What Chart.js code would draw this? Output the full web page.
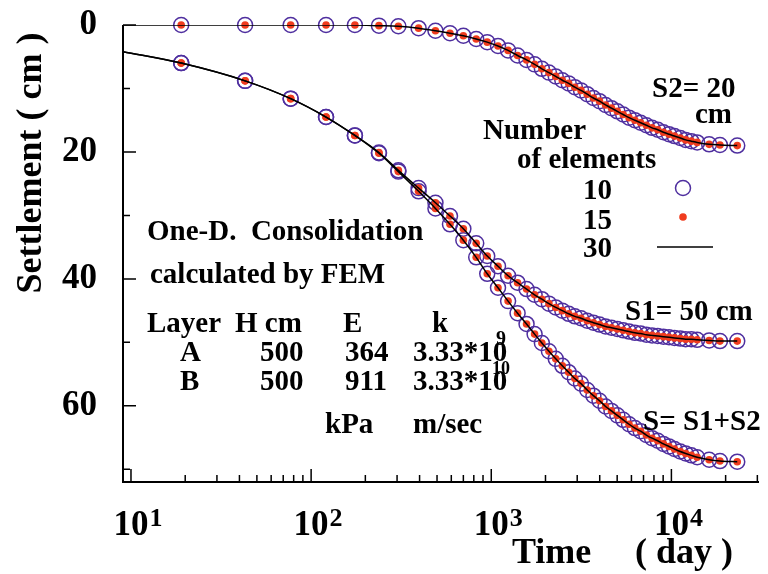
<!DOCTYPE html>
<html lang="en">
<head>
<meta charset="UTF-8">
<title>One-D. Consolidation calculated by FEM</title>
<script src="https://cdn.jsdelivr.net/npm/chart.js"></script>
<style>
  html, body { margin: 0; padding: 0; background: #fff; }
  #wrap { width: 768px; height: 574px; }
</style>
</head>
<body>
<div id="wrap"><canvas id="settlementChart" width="768" height="574"></canvas></div>
<script>
// time steps (day) - same for the 10 and 15 element runs
const timeDays = [19, 43, 77, 121, 175, 238, 305, 395, 490, 590, 700, 825, 950, 1090, 1240, 1400,
  1570, 1740, 1910, 2090, 2280, 2480, 2690, 2910, 3150, 3410, 3690, 3990, 4310, 4650, 5010, 5400,
  5820, 6270, 6750, 7260, 7810, 8400, 9030, 9700, 10400, 11200, 12000, 12900, 13900, 16200, 18600, 23200];

// settlement (cm)
const settleS2 = [0, 0, 0, 0, 0, 0.1, 0.2, 0.5, 0.9, 1.3, 1.7, 2.2, 2.7, 3.3, 4.0, 4.8,
  5.5, 6.2, 6.9, 7.5, 8.1, 8.7, 9.2, 9.8, 10.3, 10.9, 11.5, 12.0, 12.6, 13.1, 13.6, 14.1,
  14.6, 15.0, 15.4, 15.8, 16.2, 16.5, 16.9, 17.2, 17.5, 17.8, 18.1, 18.3, 18.5, 18.8, 18.9, 19.0];
const settleS1 = [6.0, 8.8, 11.6, 14.5, 17.4, 20.1, 22.9, 25.7, 28.0, 30.1, 32.1, 34.4, 36.4, 38.0, 39.5, 40.6,
  41.6, 42.5, 43.2, 43.9, 44.5, 45.0, 45.5, 45.9, 46.2, 46.6, 46.9, 47.2, 47.5, 47.7, 47.9, 48.1,
  48.3, 48.5, 48.6, 48.8, 48.9, 49.0, 49.1, 49.2, 49.3, 49.4, 49.5, 49.5, 49.6, 49.7, 49.8, 49.8];
const settleS = [6.0, 8.8, 11.6, 14.5, 17.4, 20.2, 23.1, 26.2, 28.9, 31.4, 33.9, 36.6, 39.2, 41.4, 43.5, 45.4,
  47.1, 48.7, 50.1, 51.4, 52.6, 53.7, 54.7, 55.7, 56.5, 57.5, 58.4, 59.2, 60.1, 60.8, 61.5, 62.2,
  62.9, 63.5, 64.0, 64.6, 65.1, 65.5, 66.0, 66.4, 66.8, 67.2, 67.5, 67.8, 68.1, 68.5, 68.7, 68.8];

// 30 element line starts at the left axis
const lineStartDay = 9.03;
const lineStartS2 = 0;
const lineStartS1 = 4.2;
const lineStartS = 4.2;

// axes
const xMin = 9.03, xMax = 30640;
const yMin = 0, yMax = 72;
const yMajorTicks = [0, 20, 40, 60];
const yMinorTicks = [10, 30, 50, 70];
const xMajorExp = [1, 2, 3, 4];
const xMinorTicks = [20, 30, 40, 50, 60, 70, 80, 90, 200, 300, 400, 500, 600, 700, 800, 900,
  2000, 3000, 4000, 5000, 6000, 7000, 8000, 9000, 20000, 30000];

const circleColor = '#4f2f9f';
const dotColor = '#f03c1e';
const serif = '"Liberation Serif", "Times New Roman", serif';

function pts(ys, startX, startY) {
  const out = [];
  if (startX !== undefined) out.push({ x: startX, y: startY });
  timeDays.forEach((t, i) => out.push({ x: t, y: ys[i] }));
  return out;
}

function circles(ys) {
  return { data: pts(ys), showLine: false, pointStyle: 'circle', pointRadius: 7.5,
    pointBorderWidth: 1.5, pointBorderColor: circleColor, pointBackgroundColor: 'rgba(0,0,0,0)',
    clip: false, order: 2 };
}
function dots(ys) {
  return { data: pts(ys), showLine: false, pointStyle: 'circle', pointRadius: 3.8,
    pointBorderWidth: 0, pointBackgroundColor: dotColor, clip: false, order: 1 };
}
function line(ys, y0) {
  return { data: pts(ys, lineStartDay, y0), pointRadius: 0, borderColor: '#000', borderWidth: 1.5,
    cubicInterpolationMode: 'monotone', fill: false, order: 0 };
}

const axesAndText = {
  id: 'axesAndText',
  afterDraw(chart) {
    const ctx = chart.ctx;
    const xs = chart.scales.x, ys = chart.scales.y;
    const a = chart.chartArea;
    ctx.save();
    ctx.strokeStyle = '#000';
    ctx.fillStyle = '#000';

    // axis lines
    ctx.lineWidth = 2;
    ctx.beginPath();
    ctx.moveTo(a.left, a.top);
    ctx.lineTo(a.left, a.bottom);
    ctx.lineTo(a.right, a.bottom);
    ctx.stroke();

    // ticks, pointing inside
    ctx.lineWidth = 1.5;
    ctx.beginPath();
    yMajorTicks.forEach(v => { const y = ys.getPixelForValue(v); ctx.moveTo(a.left, y); ctx.lineTo(a.left + 13, y); });
    yMinorTicks.forEach(v => { const y = ys.getPixelForValue(v); ctx.moveTo(a.left, y); ctx.lineTo(a.left + 7, y); });
    xMajorExp.forEach(e => { const x = xs.getPixelForValue(Math.pow(10, e)); ctx.moveTo(x, a.bottom); ctx.lineTo(x, a.bottom - 13); });
    xMinorTicks.forEach(v => { const x = xs.getPixelForValue(v); ctx.moveTo(x, a.bottom); ctx.lineTo(x, a.bottom - 7); });
    ctx.stroke();

    // tick labels
    ctx.font = 'bold 35px ' + serif;
    ctx.textAlign = 'right';
    ctx.textBaseline = 'middle';
    yMajorTicks.forEach(v => ctx.fillText(String(v), 97, ys.getPixelForValue(v)));

    ctx.textBaseline = 'alphabetic';
    xMajorExp.forEach(e => {
      const x = xs.getPixelForValue(Math.pow(10, e));
      ctx.font = 'bold 35px ' + serif;
      ctx.textAlign = 'center';
      ctx.fillText('10', x, 535);
      const w = ctx.measureText('10').width;
      ctx.font = 'bold 26px ' + serif;
      ctx.textAlign = 'left';
      ctx.fillText(String(e), x + w / 2 + 1, 526);
    });

    // axis titles
    ctx.font = 'bold 36px ' + serif;
    ctx.textAlign = 'left';
    ctx.fillText('Time', 512, 563);
    ctx.fillText('( day )', 635, 563);
    ctx.save();
    ctx.translate(32, 163);
    ctx.rotate(-Math.PI / 2);
    ctx.textAlign = 'center';
    ctx.textBaseline = 'middle';
    ctx.fillText('Settlement ( cm )', 0, 0);
    ctx.restore();

    // annotations
    const txt = (s, x, y, size) => { ctx.font = 'bold ' + size + 'px ' + serif; ctx.textAlign = 'left'; ctx.fillText(s, x, y); };
    txt('One-D.  Consolidation', 147, 240, 29);
    txt('calculated by FEM', 150, 283, 29);
    txt('Layer', 147, 332, 29);
    txt('H cm', 235, 332, 29);
    txt('E', 343, 332, 29);
    txt('k', 432, 332, 29);
    txt('A', 180, 361, 29);
    txt('500', 260, 361, 29);
    txt('364', 345, 361, 29);
    txt('3.33*10', 413, 361, 29);
    txt('9', 496, 345, 20);
    txt('B', 180, 390, 29);
    txt('500', 260, 390, 29);
    txt('911', 345, 390, 29);
    txt('3.33*10', 413, 390, 29);
    txt('10', 492, 374, 18);
    txt('kPa', 325, 433, 29);
    txt('m/sec', 413, 433, 29);

    txt('S2= 20', 652, 97, 29);
    txt('cm', 695, 123, 29);
    txt('S1= 50 cm', 625, 320, 29);
    txt('S= S1+S2', 643, 430, 29);

    txt('Number', 483, 139, 29);
    txt('of elements', 517, 168, 29);
    txt('10', 583, 199, 29);
    txt('15', 583, 229, 29);
    txt('30', 583, 257, 29);

    // legend symbols
    ctx.lineWidth = 1.5;
    ctx.strokeStyle = circleColor;
    ctx.beginPath();
    ctx.arc(683, 188, 7.5, 0, Math.PI * 2);
    ctx.stroke();
    ctx.fillStyle = dotColor;
    ctx.beginPath();
    ctx.arc(683, 217, 3.8, 0, Math.PI * 2);
    ctx.fill();
    ctx.strokeStyle = '#000';
    ctx.beginPath();
    ctx.moveTo(657, 247);
    ctx.lineTo(713, 247);
    ctx.stroke();

    ctx.restore();
  }
};

new Chart(document.getElementById('settlementChart').getContext('2d'), {
  type: 'line',
  data: {
    datasets: [
      circles(settleS2), circles(settleS1), circles(settleS),
      dots(settleS2), dots(settleS1), dots(settleS),
      line(settleS2, lineStartS2), line(settleS1, lineStartS1), line(settleS, lineStartS)
    ]
  },
  options: {
    responsive: false,
    animation: false,
    devicePixelRatio: 1,
    layout: { padding: { left: 123, right: 6, top: 25, bottom: 92 } },
    plugins: { legend: { display: false }, tooltip: { enabled: false } },
    scales: {
      x: { type: 'logarithmic', min: xMin, max: xMax, display: false },
      y: { type: 'linear', min: yMin, max: yMax, reverse: true, display: false }
    }
  },
  plugins: [axesAndText]
});
</script>
</body>
</html>
